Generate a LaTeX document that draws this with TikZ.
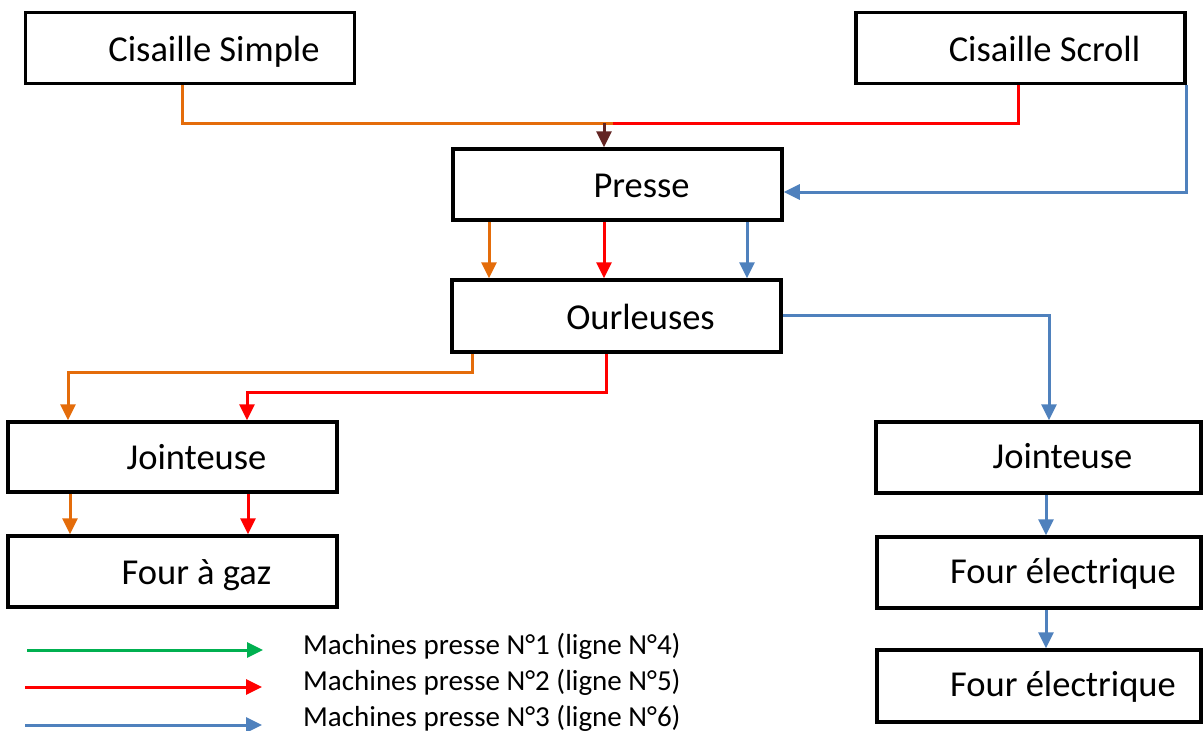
\documentclass[tikz,border=0pt]{standalone}
\usepackage{fontspec}
\setmainfont{Carlito}
\usetikzlibrary{arrows.meta}
\definecolor{cor}{HTML}{E46C0A}
\definecolor{cre}{HTML}{FF0000}
\definecolor{cbl}{HTML}{4F81BD}
\definecolor{cgr}{HTML}{00B050}
\definecolor{cbr}{HTML}{632523}
\tikzset{
  box/.style={draw=black, line width=3.5pt, rectangle, inner sep=0pt,
    font=\fontsize{36.5}{40}\selectfont, minimum width=329pt, minimum height=71pt,
    text height=25pt, text depth=0pt},
  hi/.style={text height=27.5pt, text depth=-2.5pt},
  lo/.style={text height=23.5pt, text depth=2.5pt},
  wire/.style={line width=3pt},
  tip/.style={-{Triangle[width=15pt,length=16pt]}},
  legtext/.style={anchor=base west, inner sep=0pt, font=\fontsize{29}{34}\selectfont}
}
\newcommand{\bx}[1]{\hspace*{48pt}#1}
\begin{document}
\begin{tikzpicture}[x=1pt,y=-1pt]
\useasboundingbox (0,0) rectangle (1203,731);
% boxes
\node[box, hi] (cs) at (190,48) {\bx{Cisaille Simple}};
\node[box, hi] (csc) at (1020.5,48) {\bx{Cisaille Scroll}};
\node[box] (pr) at (617.5,184.5) {\bx{Presse}};
\node[box, minimum height=72pt, text height=26.5pt, text depth=-1.5pt] (ou) at (616.5,316) {\bx{Ourleuses}};
\node[box, minimum height=70pt] (jl) at (172.5,457) {\bx{Jointeuse}};
\node[box] (fg) at (172.5,571.5) {\bx{Four à gaz}};
\node[box, lo, minimum width=325pt] (jr) at (1038.5,457.5) {\bx{Jointeuse}};
\node[box, lo, minimum width=324pt] (fe1) at (1039,572.5) {\bx{Four électrique}};
\node[box, lo, minimum width=324pt, minimum height=72pt] (fe2) at (1039,686) {\bx{Four électrique}};
% top merge
\coordinate (m) at (604,123);
\coordinate (mj) at (613,123);
\draw[wire, cor] ([xshift=-8pt]cs.south) |- (mj);
\draw[wire, cre] ([xshift=-2.5pt]csc.south) |- (mj);
\draw[wire, cbr, tip] (m) -- (m |- pr.north);
\draw[wire, cbl, tip] (csc.south east) |- ([yshift=-7.5pt]pr.east);
% presse -> ourleuses
\coordinate (p1) at ([xshift=-128.5pt]pr.south);
\coordinate (p2) at ([xshift=-13.5pt]pr.south);
\coordinate (p3) at ([xshift=129.5pt]pr.south);
\draw[wire, cor, tip] (p1) -- (p1 |- ou.north);
\draw[wire, cre, tip] (p2) -- (p2 |- ou.north);
\draw[wire, cbl, tip] (p3) -- (p3 |- ou.north);
% ourleuses -> jointeuses
\draw[wire, cbl, tip] ([yshift=1pt]ou.east) -| ([xshift=10.5pt]jr.north);
\coordinate (o1) at ([xshift=-144.5pt]ou.south);
\coordinate (o2) at ([xshift=-10.5pt]ou.south);
\draw[wire, cor, tip] (o1) -- ++(0,19) -| ([xshift=-104.5pt]jl.north);
\draw[wire, cre, tip] (o2) -- ++(0,39) -| ([xshift=74.5pt]jl.north);
% jointeuse -> four a gaz
\coordinate (j1) at ([xshift=-102.5pt]jl.south);
\coordinate (j2) at ([xshift=75.5pt]jl.south);
\draw[wire, cor, tip] (j1) -- (j1 |- fg.north);
\draw[wire, cre, tip] (j2) -- (j2 |- fg.north);
% right column
\coordinate (r1) at ([xshift=7.5pt]jr.south);
\coordinate (r2) at ([xshift=7pt]fe1.south);
\draw[wire, cbl, tip] (r1) -- (r1 |- fe1.north);
\draw[wire, cbl, tip] (r2) -- (r2 |- fe2.north);
% legend
\coordinate (la1) at (27,650); \coordinate (lb1) at (263,650);
\coordinate (la2) at (25,687); \coordinate (lb2) at (262,687);
\coordinate (la3) at (25,725); \coordinate (lb3) at (262,725);
\draw[wire, cgr, tip] (la1) -- (lb1);
\draw[wire, cre, tip] (la2) -- (lb2);
\draw[wire, cbl, tip] (la3) -- (lb3);
\node[legtext] (t1) at (303,654) {Machines presse N°1 (ligne N°4)};
\node[legtext] (t2) at (303,690.7) {Machines presse N°2 (ligne N°5)};
\node[legtext] (t3) at (303,726) {Machines presse N°3 (ligne N°6)};
\end{tikzpicture}
\end{document}
